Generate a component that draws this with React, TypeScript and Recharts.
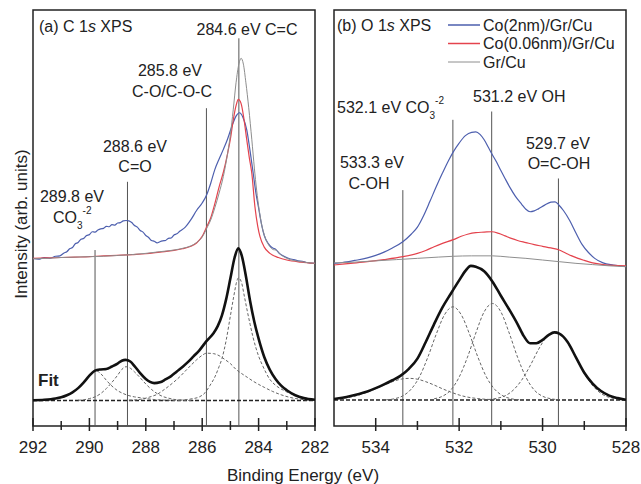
import React from 'react';
import { LineChart, Line, XAxis, YAxis, ReferenceLine, ReferenceArea } from 'recharts';

type Pt = [number, number];

// ---- C 1s panel ----
const c1sTicks = [292, 291, 290, 289, 288, 287, 286, 285, 284, 283, 282];
const c1sPeaks = [289.8, 288.65, 285.85, 284.7];
const c1sPeakTops = [42.3, 58.7, 76.4, 93.2];

const c1sBlue: Pt[] = [
  [292.0, 40.3], [291.8, 40.1], [291.6, 40.5], [291.4, 40.3], [291.2, 40.8], [291.05, 40.9], [290.9, 41.6],
  [290.8, 41.9], [290.7, 42.6], [290.6, 42.9], [290.5, 43.8], [290.4, 44.1], [290.3, 44.9], [290.2, 45.1],
  [290.1, 45.8], [290.0, 46.0], [289.9, 46.7], [289.8, 46.6], [289.7, 47.1], [289.6, 47.4], [289.5, 47.5],
  [289.4, 48.0], [289.3, 47.9], [289.2, 48.4], [289.1, 48.3], [289.0, 48.8], [288.9, 48.9], [288.8, 49.3],
  [288.7, 49.4], [288.6, 49.3], [288.5, 48.9], [288.4, 48.2], [288.3, 47.8], [288.2, 47.0], [288.1, 46.6],
  [288.0, 45.8], [287.9, 45.3], [287.8, 44.6], [287.7, 44.4], [287.6, 44.0], [287.5, 44.3], [287.4, 44.5],
  [287.3, 44.6], [287.2, 45.1], [287.1, 45.2], [287.0, 45.9], [286.9, 46.2], [286.8, 46.8], [286.6, 47.8],
  [286.4, 49.6], [286.2, 51.8], [286.0, 53.6], [285.84, 55.6], [285.7, 58.3], [285.55, 61.7], [285.4, 64.2],
  [285.25, 66.5], [285.1, 69.0], [284.95, 72.0], [284.8, 74.5], [284.68, 75.3], [284.55, 74.1], [284.42, 71.2],
  [284.3, 66.0], [284.19, 60.7], [284.1, 56.2], [284.0, 52.4], [283.9, 48.6], [283.8, 45.8], [283.65, 43.8],
  [283.5, 42.8], [283.4, 42.5], [283.25, 41.4], [283.1, 40.8], [282.9, 40.2], [282.75, 40.0], [282.6, 39.7],
  [282.45, 39.6], [282.3, 39.3], [282.0, 39.1],
];
const c1sRed: Pt[] = [
  [292.0, 40.3], [291.5, 40.4], [291.0, 40.5], [290.5, 40.6], [290.0, 40.7], [289.5, 40.9], [289.0, 41.0],
  [288.5, 41.2], [288.0, 41.4], [287.5, 41.8], [287.0, 42.2], [286.7, 42.6], [286.4, 43.2], [286.2, 44.0],
  [286.0, 45.6], [285.84, 47.9], [285.7, 50.0], [285.55, 53.5], [285.4, 57.5], [285.25, 61.0], [285.1, 65.5],
  [285.0, 69.0], [284.9, 73.5], [284.8, 77.0], [284.72, 78.5], [284.62, 77.5], [284.52, 73.8], [284.42, 68.8],
  [284.33, 64.5], [284.24, 60.7], [284.13, 52.7], [284.03, 48.0], [283.95, 45.5], [283.8, 43.0], [283.6, 41.5],
  [283.3, 40.5], [283.0, 39.9], [282.5, 39.4], [282.0, 39.1],
];
const c1sGray: Pt[] = [
  [292.0, 40.2], [291.5, 40.3], [291.0, 40.5], [290.5, 40.6], [290.0, 40.7], [289.5, 40.8], [289.0, 41.0],
  [288.5, 41.2], [288.0, 41.5], [287.5, 41.9], [287.0, 42.3], [286.7, 42.7], [286.4, 43.3], [286.2, 44.1],
  [286.0, 45.4], [285.84, 47.5], [285.7, 49.5], [285.55, 52.5], [285.4, 56.0], [285.25, 60.0], [285.1, 65.5],
  [285.0, 70.0], [284.9, 76.0], [284.8, 82.5], [284.7, 87.0], [284.62, 88.4], [284.54, 87.0], [284.45, 82.5],
  [284.35, 76.5], [284.24, 68.8], [284.15, 62.0], [284.07, 56.7], [283.98, 52.0], [283.9, 48.7], [283.75, 45.0],
  [283.6, 43.1], [283.48, 42.4], [283.38, 42.3], [283.25, 41.4], [283.0, 40.3], [282.5, 39.5], [282.0, 39.1],
];
const c1sFit: Pt[] = [
  [292.0, 6.2], [291.6, 6.3], [291.2, 6.6], [291.0, 6.9], [290.8, 7.4], [290.6, 8.1], [290.4, 9.1], [290.2, 10.5],
  [290.0, 12.1], [289.8, 13.3], [289.6, 13.6], [289.4, 13.7], [289.2, 14.3], [289.0, 15.0], [288.85, 15.7],
  [288.72, 15.9], [288.55, 15.5], [288.4, 14.4], [288.2, 12.7], [288.0, 11.3], [287.85, 10.6], [287.7, 10.3],
  [287.5, 10.5], [287.3, 11.2], [287.1, 12.0], [286.9, 13.1], [286.7, 14.2], [286.5, 15.4], [286.3, 16.8],
  [286.1, 18.2], [285.85, 20.4], [285.6, 22.3], [285.45, 24.0], [285.3, 26.6], [285.15, 30.5], [285.0, 35.5],
  [284.85, 40.5], [284.72, 42.7], [284.6, 41.0], [284.45, 36.0], [284.3, 30.0], [284.15, 25.0], [284.0, 21.0],
  [283.8, 16.6], [283.6, 13.5], [283.4, 11.3], [283.2, 9.7], [283.0, 8.6], [282.7, 7.4], [282.4, 6.7], [282.0, 6.3],
];
const c1sCO3: Pt[] = [
  [292.0, 6.1], [291.6, 6.2], [291.2, 6.5], [291.0, 6.8], [290.8, 7.3], [290.6, 8.0], [290.4, 9.0], [290.2, 10.4],
  [290.0, 12.0], [289.8, 13.4], [289.6, 12.6], [289.4, 11.0], [289.2, 9.6], [289.0, 8.5], [288.8, 7.8], [288.6, 7.3],
  [288.4, 7.0], [288.2, 6.8], [288.0, 6.6], [287.6, 6.3], [287.2, 6.2], [286.8, 6.1],
];
const c1sCeqO: Pt[] = [
  [290.4, 6.2], [290.2, 6.3], [290.0, 6.6], [289.8, 7.0], [289.6, 7.8], [289.4, 9.0], [289.2, 10.5], [289.0, 12.2],
  [288.85, 13.6], [288.7, 14.25], [288.55, 13.9], [288.4, 13.0], [288.2, 11.6], [288.0, 10.1], [287.8, 8.8],
  [287.6, 7.8], [287.4, 7.1], [287.2, 6.7], [287.0, 6.4], [286.7, 6.2], [286.3, 6.1],
];
const c1sCO: Pt[] = [
  [288.6, 6.2], [288.2, 6.4], [288.0, 6.7], [287.8, 7.1], [287.6, 7.6], [287.4, 8.5], [287.2, 9.5], [287.0, 10.6],
  [286.8, 11.8], [286.6, 13.2], [286.4, 14.6], [286.2, 15.9], [286.0, 17.0], [285.85, 17.5], [285.6, 17.4],
  [285.4, 16.9], [285.2, 16.0], [285.0, 15.0], [284.8, 13.6], [284.6, 12.6], [284.4, 11.7], [284.2, 10.8],
  [284.0, 10.0], [283.8, 9.3], [283.5, 8.3], [283.2, 7.5], [282.9, 6.9], [282.6, 6.5], [282.3, 6.3], [282.0, 6.2],
];
const c1sCC: Pt[] = [
  [286.8, 6.2], [286.4, 6.5], [286.1, 7.0], [285.9, 8.0], [285.72, 9.8], [285.55, 11.8], [285.4, 14.3],
  [285.3, 16.2], [285.15, 20.6], [285.0, 26.5], [284.88, 31.2], [284.78, 34.6], [284.72, 35.6], [284.62, 34.8],
  [284.5, 31.0], [284.4, 27.6], [284.3, 24.4], [284.2, 21.4], [284.1, 18.9], [284.0, 16.8], [283.85, 14.4],
  [283.6, 11.2], [283.4, 9.8], [283.12, 8.6], [282.8, 7.6], [282.5, 7.0], [282.2, 6.6], [282.0, 6.5],
];
const c1sBase: Pt[] = [[292.0, 6.1], [282.0, 6.1]];

// ---- O 1s panel ----
const o1sTicks = [534, 533, 532, 531, 530, 529, 528];
const o1sPeaks = [533.35, 532.15, 531.22, 529.62];
const o1sPeakTops = [56.7, 73.6, 75.6, 59.5];

const o1sBlue: Pt[] = [
  [535.0, 39.1], [534.8, 39.3], [534.5, 39.8], [534.2, 40.4], [534.0, 41.0], [533.8, 41.8], [533.6, 42.8],
  [533.35, 44.3], [533.15, 46.1], [533.0, 47.8], [532.85, 50.6], [532.7, 54.0], [532.55, 57.5], [532.4, 60.8],
  [532.25, 63.9], [532.14, 65.9], [532.0, 68.0], [531.85, 69.8], [531.7, 70.6], [531.6, 70.7], [531.5, 70.1],
  [531.4, 68.8], [531.3, 67.0], [531.22, 65.5], [531.1, 63.4], [531.0, 61.4], [530.9, 59.5], [530.78, 57.3],
  [530.65, 55.2], [530.5, 53.3], [530.4, 52.1], [530.3, 51.5], [530.2, 51.7], [530.1, 52.2], [529.95, 53.1],
  [529.8, 53.8], [529.7, 53.9], [529.6, 53.0], [529.5, 51.8], [529.35, 49.4], [529.2, 46.4], [529.05, 43.6],
  [528.9, 41.7], [528.75, 40.3], [528.55, 39.2], [528.3, 38.7], [528.0, 38.3],
];
const o1sRed: Pt[] = [
  [535.0, 38.7], [534.6, 39.1], [534.2, 39.5], [533.8, 40.0], [533.35, 40.7], [533.0, 41.5], [532.8, 42.2],
  [532.6, 43.1], [532.4, 43.9], [532.14, 44.8], [531.95, 45.6], [531.8, 46.1], [531.6, 46.5], [531.4, 46.6],
  [531.22, 46.7], [531.05, 46.3], [530.9, 45.7], [530.75, 45.1], [530.6, 44.6], [530.4, 44.1], [530.2, 43.6],
  [530.0, 43.2], [529.8, 42.8], [529.6, 42.3], [529.45, 41.6], [529.3, 40.9], [529.15, 40.3], [529.0, 39.8],
  [528.8, 39.2], [528.55, 38.8], [528.3, 38.6], [528.0, 38.5],
];
const o1sGray: Pt[] = [
  [535.0, 39.2], [534.5, 39.4], [534.0, 39.7], [533.5, 40.0], [533.0, 40.3], [532.5, 40.6], [532.14, 40.8],
  [531.7, 40.9], [531.2, 40.9], [530.8, 40.6], [530.4, 40.3], [530.0, 39.9], [529.6, 39.5], [529.2, 39.1],
  [528.8, 38.8], [528.4, 38.5], [528.0, 38.3],
];
const o1sFit: Pt[] = [
  [535.0, 6.5], [534.8, 6.8], [534.6, 7.2], [534.4, 7.7], [534.2, 8.3], [534.0, 9.1], [533.8, 10.0], [533.6, 11.0],
  [533.4, 12.1], [533.2, 13.8], [533.0, 16.2], [532.8, 20.2], [532.6, 24.5], [532.4, 28.5], [532.2, 31.8],
  [532.0, 35.0], [531.85, 37.3], [531.72, 38.5], [531.6, 38.3], [531.4, 37.2], [531.2, 34.7], [531.0, 31.3],
  [530.8, 28.0], [530.6, 24.5], [530.45, 21.6], [530.3, 19.9], [530.15, 19.9], [530.0, 20.7], [529.85, 21.9],
  [529.72, 22.5], [529.6, 22.2], [529.4, 20.2], [529.2, 16.5], [529.0, 12.8], [528.8, 10.2], [528.6, 8.4],
  [528.4, 7.3], [528.2, 6.7], [528.0, 6.3],
];
const o1sCOH: Pt[] = [
  [535.0, 6.45], [534.8, 6.65], [534.6, 6.95], [534.4, 7.45], [534.2, 8.15], [534.0, 8.95], [533.8, 9.85],
  [533.6, 10.65], [533.4, 11.25], [533.2, 11.45], [533.0, 11.25], [532.8, 10.65], [532.6, 9.85], [532.4, 8.95],
  [532.2, 8.15], [532.0, 7.45], [531.8, 6.95], [531.6, 6.65], [531.4, 6.45], [531.2, 6.35], [530.8, 6.25],
];
const o1sCO3: Pt[] = [
  [533.75, 6.3], [533.55, 6.55], [533.35, 7.25], [533.15, 8.85], [532.95, 11.85], [532.75, 16.55], [532.55, 22.05],
  [532.35, 26.75], [532.15, 28.65], [531.95, 26.75], [531.75, 22.05], [531.55, 16.55], [531.35, 11.85],
  [531.15, 8.85], [530.95, 7.25], [530.75, 6.55], [530.55, 6.3],
];
const o1sOH: Pt[] = [
  [532.6, 6.55], [532.4, 7.15], [532.2, 8.65], [532.0, 11.75], [531.8, 16.55], [531.6, 22.35], [531.4, 27.45],
  [531.2, 29.45], [531.0, 27.45], [530.8, 22.35], [530.6, 16.55], [530.4, 11.75], [530.2, 8.65], [530.0, 7.15],
  [529.8, 6.55], [529.6, 6.3],
];
const o1sOCOH: Pt[] = [
  [531.3, 6.35], [531.1, 6.65], [530.9, 7.25], [530.7, 8.65], [530.5, 11.05], [530.3, 14.45], [530.1, 18.35],
  [529.9, 21.45], [529.7, 22.65], [529.5, 21.45], [529.3, 18.35], [529.1, 14.45], [528.9, 11.05], [528.7, 8.65],
  [528.5, 7.25], [528.3, 6.65], [528.1, 6.35], [528.0, 6.3],
];
const o1sBase: Pt[] = [[535.0, 6.25], [528.0, 6.25]];

const legendNames = ['Co(2nm)/Gr/Cu', 'Co(0.06nm)/Gr/Cu', 'Gr/Cu'];

const BLUE = '#4d5fae';
const RED = '#e4434d';
const GRAY = '#8e8e8e';
const INK = '#222';
const FONT = '"Liberation Sans", Arial, sans-serif';

const rows = (pts: Pt[]) => pts.map(([e, v]) => ({ e, v }));

const XTick = (props: any) => {
  const { x, y, payload } = props;
  const major = payload.value % 2 === 0;
  return (
    <g>
      <line x1={x} x2={x} y1={y - (major ? 8 : 5)} y2={y + (major ? 5 : 4)} stroke={INK} strokeWidth={1.5} />
      {major && (
        <text x={x} y={y + 27} textAnchor="middle" fontSize={17} fontFamily={FONT} fill={INK}>
          {payload.value}
        </text>
      )}
    </g>
  );
};

interface PanelProps {
  left: number;
  width: number;
  margin: { left: number; right: number };
  domain: [number, number];
  ticks: number[];
  blue: Pt[];
  red: Pt[];
  gray: Pt[];
  fit: Pt[];
  parts: Pt[][];
  base: Pt[];
  peaks: number[];
  tops: number[];
}

function Panel(p: PanelProps) {
  return (
    <div style={{ position: 'absolute', left: p.left, top: 0 }}>
      <LineChart width={p.width} height={484} margin={{ top: 10, bottom: 0, left: p.margin.left, right: p.margin.right }}>
        <XAxis
          dataKey="e"
          type="number"
          domain={p.domain}
          reversed
          allowDataOverflow
          ticks={p.ticks}
          interval={0}
          height={58}
          axisLine={false}
          tickLine={false}
          tickSize={0}
          tickMargin={0}
          tick={<XTick />}
        />
        <YAxis type="number" domain={[0, 100]} hide allowDataOverflow />
        <ReferenceArea x1={p.domain[0]} x2={p.domain[1]} y1={0} y2={100} fill="none" stroke={INK} strokeWidth={1.5} />
        {p.peaks.map((e, i) => (
          <ReferenceLine key={e} segment={[{ x: e, y: 0 }, { x: e, y: p.tops[i] }]} stroke="#555" strokeWidth={1} />
        ))}
        <Line data={rows(p.base)} dataKey="v" stroke={INK} strokeWidth={1.5} strokeDasharray="4 2" dot={false} isAnimationActive={false} />
        {p.parts.map((part, i) => (
          <Line key={i} data={rows(part)} dataKey="v" type="monotone" stroke="#666" strokeWidth={1} strokeDasharray="3 2" dot={false} isAnimationActive={false} />
        ))}
        <Line data={rows(p.fit)} dataKey="v" type="monotone" stroke="#111" strokeWidth={2.6} dot={false} isAnimationActive={false} />
        <Line data={rows(p.blue)} dataKey="v" type="monotone" stroke={BLUE} strokeWidth={1.2} dot={false} isAnimationActive={false} />
        <Line data={rows(p.red)} dataKey="v" type="monotone" stroke={RED} strokeWidth={1.2} dot={false} isAnimationActive={false} />
        <Line data={rows(p.gray)} dataKey="v" type="monotone" stroke={GRAY} strokeWidth={1} dot={false} isAnimationActive={false} />
      </LineChart>
    </div>
  );
}

export default function App() {
  const t = { fontFamily: FONT, fontSize: 16, fill: INK };
  const small = { fontSize: 10 };
  return (
    <div style={{ position: 'absolute', left: 0, top: 0, width: 641, height: 484, background: '#fff' }}>
      <Panel
        left={0}
        width={330}
        margin={{ left: 33, right: 15 }}
        domain={[282, 292]}
        ticks={c1sTicks}
        blue={c1sBlue}
        red={c1sRed}
        gray={c1sGray}
        fit={c1sFit}
        parts={[c1sCO3, c1sCeqO, c1sCO, c1sCC]}
        base={c1sBase}
        peaks={c1sPeaks}
        tops={c1sPeakTops}
      />
      <Panel
        left={320}
        width={321}
        margin={{ left: 14, right: 15 }}
        domain={[528, 535]}
        ticks={o1sTicks}
        blue={o1sBlue}
        red={o1sRed}
        gray={o1sGray}
        fit={o1sFit}
        parts={[o1sCOH, o1sCO3, o1sOH, o1sOCOH]}
        base={o1sBase}
        peaks={o1sPeaks}
        tops={o1sPeakTops}
      />
      <svg width={641} height={484} style={{ position: 'absolute', left: 0, top: 0, pointerEvents: 'none' }}>
        <g {...t}>
          <text x={39} y={32}>(a) C 1<tspan fontStyle="italic">s</tspan> XPS</text>
          <text x={247} y={35} textAnchor="middle">284.6 eV C=C</text>
          <text x={170} y={76} textAnchor="middle">285.8 eV</text>
          <text x={172} y={97} textAnchor="middle">C-O/C-O-C</text>
          <text x={135} y={152} textAnchor="middle">288.6 eV</text>
          <text x={135} y={172} textAnchor="middle">C=O</text>
          <text x={72} y={202} textAnchor="middle">289.8 eV</text>
          <text x={53} y={223}>
            CO<tspan dy={6} {...small}>3</tspan>
            <tspan dx={0} dy={-15} {...small}>-2</tspan>
          </text>
          <text x={38} y={386} fontWeight="bold" fontSize={17}>Fit</text>

          <text x={337} y={31}>(b) O 1<tspan fontStyle="italic">s</tspan> XPS</text>
          <text x={337} y={113}>
            532.1 eV CO<tspan dy={6} {...small}>3</tspan>
            <tspan dx={0} dy={-15} {...small}>-2</tspan>
          </text>
          <text x={473} y={102}>531.2 eV OH</text>
          <text x={372} y={168} textAnchor="middle">533.3 eV</text>
          <text x={369} y={189} textAnchor="middle">C-OH</text>
          <text x={558} y={149} textAnchor="middle">529.7 eV</text>
          <text x={559} y={169} textAnchor="middle">O=C-OH</text>

          {legendNames.map((name, i) => (
            <g key={name}>
              <line x1={448} x2={480} y1={25 + i * 18.5} y2={25 + i * 18.5} stroke={[BLUE, RED, GRAY][i]} strokeWidth={i === 2 ? 1 : 1.5} />
              <text x={483} y={30.6 + i * 18.5}>{name}</text>
            </g>
          ))}

          <text x={303} y={481} textAnchor="middle" fontSize={17}>Binding Energy (eV)</text>
          <text transform="translate(27,224) rotate(-90)" textAnchor="middle" fontSize={17}>Intensity (arb. units)</text>
        </g>
      </svg>
    </div>
  );
}
